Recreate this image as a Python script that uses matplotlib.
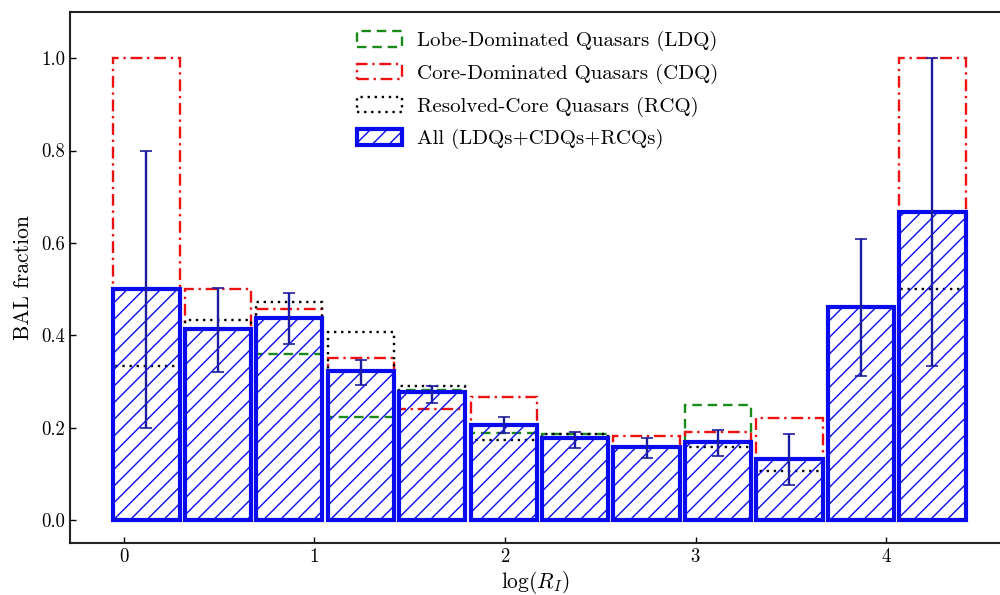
import numpy as np
import matplotlib
matplotlib.use("Agg")
import matplotlib.pyplot as plt

plt.rcParams['font.family'] = ['cmr10', 'DejaVu Serif']
plt.rcParams['mathtext.fontset'] = 'cm'
plt.rcParams['axes.formatter.use_mathtext'] = True
plt.rcParams['hatch.linewidth'] = 1.0

nan = np.nan
# bin centers of log(R_I)
centers = [0.118, 0.493, 0.868, 1.243, 1.618, 1.993, 2.368, 2.743, 3.118, 3.493, 3.868, 4.243]
all_frac = [0.50, 0.414, 0.438, 0.323, 0.276, 0.206, 0.177, 0.158, 0.168, 0.132, 0.462, 0.667]
err_low = [0.20, 0.321, 0.381, 0.293, 0.254, 0.189, 0.155, 0.134, 0.139, 0.076, 0.312, 0.333]
err_high = [0.80, 0.503, 0.491, 0.347, 0.291, 0.222, 0.191, 0.177, 0.195, 0.186, 0.608, 1.0]
cdq_frac = [1.0, 0.50, 0.456, 0.350, 0.240, 0.266, nan, 0.181, 0.191, 0.220, nan, 1.0]
ldq_frac = [nan, nan, 0.359, 0.222, 0.282, 0.189, 0.186, nan, 0.249, nan, nan, nan]
rcq_frac = [0.333, 0.433, 0.471, 0.408, 0.289, 0.172, 0.186, nan, 0.158, 0.106, nan, 0.50]

labels = ['Lobe-Dominated Quasars (LDQ)', 'Core-Dominated Quasars (CDQ)',
          'Resolved-Core Quasars (RCQ)', 'All (LDQs+CDQs+RCQs)']

fig = plt.figure(figsize=(10, 5.95), dpi=100)
ax = fig.add_axes([0.07, 0.0874, 0.93, 0.8924])

x = np.array(centers)
w_bar = 0.348

def outline(vals, color, ls, label):
    v = np.array(vals, dtype=float)
    m = ~np.isnan(v)
    return ax.bar(x[m], v[m], width=w_bar, fill=False, edgecolor=color,
                  linestyle=ls, linewidth=1.7, zorder=2, label=label)

h1 = outline(ldq_frac, '#1a8a1a', (0, (4, 2.5)), labels[0])
h2 = outline(cdq_frac, '#ee1111', (0, (5, 2, 1, 2)), labels[1])
h3 = outline(rcq_frac, 'black', (0, (1, 2)), labels[2])

y = np.array(all_frac)
h4 = ax.bar(x, y, width=w_bar, facecolor='none', edgecolor='#0a0aee',
            hatch='//', linewidth=3.0, zorder=3, label=labels[3])

yerr = [y - np.array(err_low), np.array(err_high) - y]
ax.errorbar(x, y, yerr=yerr, fmt='none', ecolor='#1c1ca0', elinewidth=1.7,
            capsize=4, capthick=1.2, zorder=4)

ax.set_xlim(-0.283, 4.598)
ax.set_ylim(-0.05, 1.1)
ax.set_xticks([0, 1, 2, 3, 4])
ax.set_yticks([0.0, 0.2, 0.4, 0.6, 0.8, 1.0])
ax.set_yticklabels(['0.0', '0.2', '0.4', '0.6', '0.8', '1.0'])
ax.tick_params(direction='in', length=4, width=1, labelsize=13.5, top=False, right=False)
ax.spines['right'].set_visible(False)
for s in ['left', 'bottom', 'top']:
    ax.spines[s].set_linewidth(1.5)
    ax.spines[s].set_color('#222222')

ax.set_ylabel('BAL fraction', fontsize=15.5, labelpad=6)
ax.set_xlabel(r'$\log(R_I)$', fontsize=15.5, labelpad=2)

leg = ax.legend(handles=[h1, h2, h3, h4], labels=labels, loc='upper left',
                bbox_to_anchor=(0.288, 0.999), frameon=False, fontsize=15,
                handlelength=2.2, handleheight=0.75, handletextpad=0.7,
                labelspacing=0.6)

fig.savefig('out.png', dpi=100)
